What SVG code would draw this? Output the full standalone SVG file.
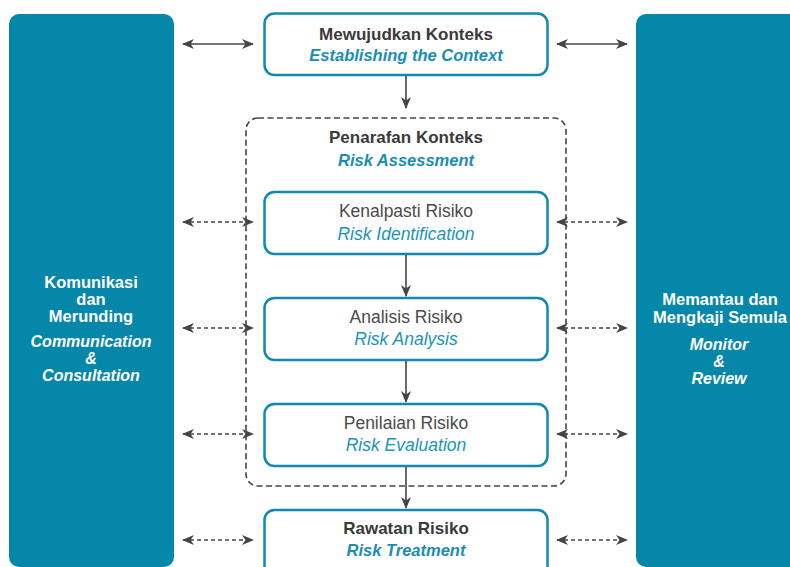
<svg xmlns="http://www.w3.org/2000/svg" width="790" height="567" viewBox="0 0 790 567">
<defs>
<style>
.panel{fill:#0587aa}
.box{fill:#fff;stroke:#1189ad;stroke-width:2.5}
.dbox{fill:none;stroke:#444;stroke-width:1.6;stroke-dasharray:6 3.5}
.t{font-family:"Liberation Sans",Arial,sans-serif;text-anchor:middle}
.h{font-size:17px;font-weight:bold;fill:#3a3a3a}
.hi{font-size:16.5px;font-weight:bold;font-style:italic;fill:#1a8db3}
.n{font-size:17.5px;fill:#4a4a4a}
.ni{font-size:17.5px;font-style:italic;fill:#1a94bb}
.w{font-size:16.5px;font-weight:bold;fill:#fff}
.wi{font-size:16px;font-weight:bold;font-style:italic;fill:#fff}
.sol{stroke:#444;stroke-width:1.6;fill:none}
.dsh{stroke:#444;stroke-width:1.6;fill:none;stroke-dasharray:4 3}
</style>
<marker id="ah" viewBox="0 0 12 10" refX="11" refY="5" markerWidth="12" markerHeight="10" markerUnits="userSpaceOnUse" orient="auto-start-reverse">
<path d="M0,0 L12,5 L0,10 L3.5,5 Z" fill="#444"/>
</marker>
</defs>

<g id="comm">
<rect class="panel" x="9" y="14" width="165" height="553" rx="10"/>
<text class="t w" x="91" y="288">Komunikasi</text>
<text class="t w" x="91" y="305">dan</text>
<text class="t w" x="91" y="322">Merunding</text>
<text class="t wi" x="91" y="347">Communication</text>
<text class="t wi" x="91" y="364">&amp;</text>
<text class="t wi" x="91" y="381">Consultation</text>
</g>

<g id="monitor">
<rect class="panel" x="636" y="14" width="170" height="553" rx="10"/>
<text class="t w" x="720" y="305">Memantau dan</text>
<text class="t w" x="720" y="323">Mengkaji Semula</text>
<text class="t wi" x="719" y="350">Monitor</text>
<text class="t wi" x="719" y="367">&amp;</text>
<text class="t wi" x="719" y="384">Review</text>
</g>

<g id="context">
<rect class="box" x="264.5" y="13.5" width="283" height="61.5" rx="10"/>
<text class="t h" x="406" y="40">Mewujudkan Konteks</text>
<text class="t hi" x="406" y="61">Establishing the Context</text>
</g>

<g id="assessment">
<rect class="dbox" x="246" y="118" width="320" height="368" rx="12"/>
<text class="t h" x="406" y="143">Penarafan Konteks</text>
<text class="t hi" x="406" y="166">Risk Assessment</text>
</g>

<g id="identification">
<rect class="box" x="264.5" y="192" width="283" height="62" rx="10"/>
<text class="t n" x="406" y="217">Kenalpasti Risiko</text>
<text class="t ni" x="406" y="240">Risk Identification</text>
</g>

<g id="analysis">
<rect class="box" x="264.5" y="298" width="283" height="62" rx="10"/>
<text class="t n" x="406" y="323">Analisis Risiko</text>
<text class="t ni" x="406" y="345">Risk Analysis</text>
</g>

<g id="evaluation">
<rect class="box" x="264.5" y="404" width="283" height="62" rx="10"/>
<text class="t n" x="406" y="429">Penilaian Risiko</text>
<text class="t ni" x="406" y="451">Risk Evaluation</text>
</g>

<g id="treatment">
<rect class="box" x="264.5" y="510" width="283" height="70" rx="10"/>
<text class="t h" x="406" y="534">Rawatan Risiko</text>
<text class="t hi" x="406" y="556">Risk Treatment</text>
</g>

<g id="connectors">
<line class="sol" x1="183" y1="44" x2="253" y2="44" marker-start="url(#ah)" marker-end="url(#ah)"/>
<line class="sol" x1="557" y1="44" x2="627" y2="44" marker-start="url(#ah)" marker-end="url(#ah)"/>
<line class="dsh" x1="183" y1="222" x2="253" y2="222" marker-start="url(#ah)" marker-end="url(#ah)"/>
<line class="dsh" x1="557" y1="222" x2="627" y2="222" marker-start="url(#ah)" marker-end="url(#ah)"/>
<line class="dsh" x1="183" y1="328" x2="253" y2="328" marker-start="url(#ah)" marker-end="url(#ah)"/>
<line class="dsh" x1="557" y1="328" x2="627" y2="328" marker-start="url(#ah)" marker-end="url(#ah)"/>
<line class="dsh" x1="183" y1="434" x2="253" y2="434" marker-start="url(#ah)" marker-end="url(#ah)"/>
<line class="dsh" x1="557" y1="434" x2="627" y2="434" marker-start="url(#ah)" marker-end="url(#ah)"/>
<line class="dsh" x1="183" y1="540" x2="253" y2="540" marker-start="url(#ah)" marker-end="url(#ah)"/>
<line class="dsh" x1="557" y1="540" x2="627" y2="540" marker-start="url(#ah)" marker-end="url(#ah)"/>
<line class="sol" x1="406" y1="76" x2="406" y2="108" marker-end="url(#ah)"/>
<line class="sol" x1="406" y1="255" x2="406" y2="296" marker-end="url(#ah)"/>
<line class="sol" x1="406" y1="361" x2="406" y2="402" marker-end="url(#ah)"/>
<line class="sol" x1="406" y1="467" x2="406" y2="508" marker-end="url(#ah)"/>
</g>
</svg>
